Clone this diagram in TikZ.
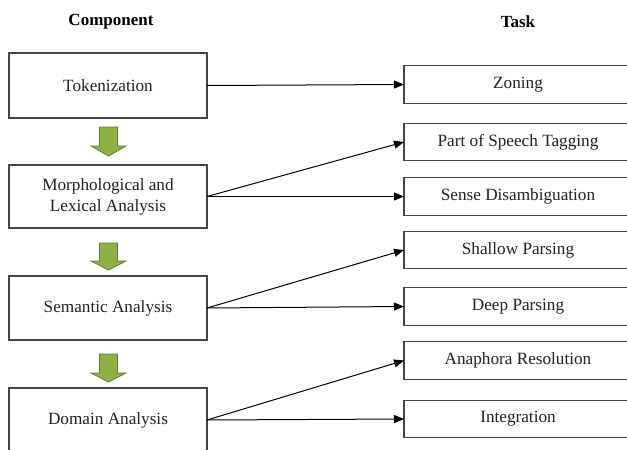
\documentclass[tikz,border=0pt]{standalone}
\usepackage{fontspec}
\setmainfont{Liberation Serif}
\usetikzlibrary{arrows.meta}
\definecolor{boxline}{HTML}{454545}
\definecolor{txt}{HTML}{222222}
\definecolor{stepfill}{HTML}{8DB144}
\definecolor{stepline}{HTML}{5F7B2C}
\tikzset{
  comp/.style={draw=boxline, line width=1.2pt, fill=white, inner sep=0pt, outer sep=0pt,
    minimum width=198pt, text=txt, align=center,
    font=\fontsize{17.2}{21}\selectfont},
  task/.style={draw=boxline, line width=1.2pt, fill=white, inner sep=0pt, outer sep=0pt,
    minimum width=228pt, minimum height=37.5pt, text=txt,
    font=\fontsize{17.2}{21}\selectfont},
  head/.style={text=black, font=\fontsize{17}{21}\selectfont\bfseries},
  link/.style={line width=1pt, black, -{Triangle[length=10pt,width=8pt]}},
  flowarrow/.style={fill=stepfill, draw=stepline, line width=0.8pt, line join=miter}
}
\begin{document}
\begin{tikzpicture}[x=1pt,y=-1pt]
  \useasboundingbox (0,0) rectangle (627,450);
  \clip (0,0) rectangle (627,450);
  \fill[white] (0,0) rectangle (627,450);

  % column headings
  \node[head] (hcomp) at (111,22) {Component};
  \node[head] (htask) at (518,22) {Task};

  % components
  \node[comp, minimum height=65pt] (tok) at (108,85.5) {Tokenization};
  \node[comp, minimum height=63pt] (morph) at (108,196.5) {Morphological and\\Lexical Analysis};
  \node[comp, minimum height=64pt] (sem) at (108,308) {Semantic Analysis};
  \node[comp, minimum height=64pt] (dom) at (108,420) {Domain Analysis};

  % tasks
  \node[task] (zon) at (518,84.5) {Zoning};
  \node[task] (pos) at (518,142) {Part of Speech Tagging};
  \node[task] (sense) at (518,196.5) {Sense Disambiguation};
  \node[task] (shal) at (518,250) {Shallow Parsing};
  \node[task] (deep) at (518,306.5) {Deep Parsing};
  \node[task] (ana) at (518,360.5) {Anaphora Resolution};
  \node[task] (integ) at (518,419) {Integration};

  % green block arrows between components
  \foreach \t/\h/\b in {127/146/156, 243/261/270, 354/373/382}{
    \draw[flowarrow] (99.5,\t) -- (117.5,\t) -- (117.5,\h) -- (126,\h) -- (108.5,\b)
      -- (91,\h) -- (99.5,\h) -- cycle;
  }

  % component -> task links
  \draw[link] (tok.east) -- (zon.west);
  \draw[link] (morph.east) -- (pos.west);
  \draw[link] (morph.east) -- (sense.west);
  \draw[link] (sem.east) -- (shal.west);
  \draw[link] (sem.east) -- (deep.west);
  \draw[link] (dom.east) -- (ana.west);
  \draw[link] (dom.east) -- (integ.west);
\end{tikzpicture}
\end{document}
